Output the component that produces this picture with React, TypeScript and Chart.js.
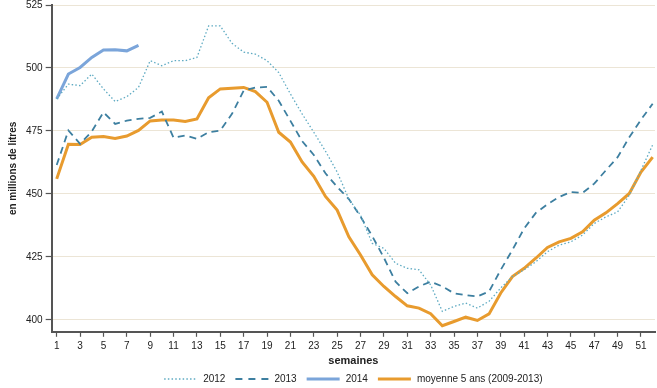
import React, { useEffect, useRef } from "react";
import { Chart, registerables } from "chart.js";

Chart.register(...registerables);

const weeks = [1,2,3,4,5,6,7,8,9,10,11,12,13,14,15,16,17,18,19,20,21,22,23,24,25,26,27,28,29,30,31,32,33,34,35,36,37,38,39,40,41,42,43,44,45,46,47,48,49,50,51,52];
const xTickWeeks = [1,3,5,7,9,11,13,15,17,19,21,23,25,27,29,31,33,35,37,39,41,43,45,47,49,51];
const yTickValues = [400, 425, 450, 475, 500, 525];

const serie2012 = [487.7, 493.6, 493, 497.6, 491.7, 486.7, 488.6, 492.3, 502.9, 500.9, 502.9, 502.9, 504.2, 516.7, 516.7, 509.8, 506.3, 505.5, 502.9, 498.2, 489.7, 481.8, 474.5, 467, 458.7, 448, 441.6, 430.4, 428.4, 422.5, 420.5, 419.9, 413.9, 403.4, 405.4, 406.7, 404.7, 407.4, 412.7, 417.2, 419.9, 423.1, 427.1, 429.7, 431, 433.7, 438.3, 440.9, 442.9, 449.5, 459.4, 469.5];
const serie2013 = [461.5, 475.2, 469.9, 474.8, 482.4, 477.8, 479.1, 479.8, 480.2, 482.7, 472.3, 473.2, 471.9, 474.5, 475.2, 481.8, 491, 492.2, 492.5, 487, 479, 471, 465.5, 458.2, 452.8, 448, 441, 433.3, 424.7, 415.2, 410.6, 413.3, 415.2, 413.3, 410.6, 409.8, 409.3, 411.3, 419.9, 427.8, 436.3, 442.5, 445.9, 448.8, 450.8, 450.4, 454.1, 459.4, 464.6, 472.5, 479.5, 485.8];
const serie2014 = [487.7, 497.6, 500.2, 504.2, 507.1, 507.2, 506.8, 509];
const moyenne = [456, 469.7, 469.6, 472.5, 472.8, 472, 473, 475.2, 479, 479.4, 479.4, 478.8, 479.8, 488.2, 491.7, 492, 492.3, 490.6, 486.4, 474.5, 470.6, 462.7, 457, 449, 443.6, 433, 425.8, 417.9, 413.3, 409.3, 405.6, 404.7, 402.5, 397.7, 399.4, 401.1, 399.8, 402.4, 410.7, 417.2, 420.5, 424.5, 428.8, 431, 432.4, 435, 439.6, 442.5, 446.2, 450.2, 458.7, 464.6];

const toPoints = (vals: number[]) => vals.map((v, i) => ({ x: weeks[i], y: v }));

const FONT = "'Liberation Sans', Arial, sans-serif";

const bottomLegend = {
  id: "bottomLegend",
  afterDraw(chart: any) {
    const ctx = chart.ctx as CanvasRenderingContext2D;
    const sample = 33;
    const gapText = 6;
    const gapItem = 10;
    ctx.save();
    ctx.font = `10px ${FONT}`;
    const items = chart.data.datasets.map((ds: any) => ({ ds, w: ctx.measureText(ds.label).width }));
    const total = items.reduce((s: number, it: any) => s + sample + gapText + it.w, 0) + gapItem * (items.length - 1);
    const area = chart.chartArea;
    let x = (area.left + area.right) / 2 - total / 2;
    const y = 379;
    for (const it of items) {
      ctx.beginPath();
      ctx.setLineDash(it.ds.legendDash || []);
      ctx.lineWidth = it.ds.borderWidth;
      ctx.strokeStyle = it.ds.borderColor;
      ctx.moveTo(x, y);
      ctx.lineTo(x + sample, y);
      ctx.stroke();
      ctx.setLineDash([]);
      x += sample + gapText;
      ctx.fillStyle = "#222";
      ctx.textBaseline = "middle";
      ctx.textAlign = "left";
      ctx.fillText(it.ds.label, x, y + 0.5);
      x += it.w + gapItem;
    }
    ctx.restore();
  },
};

export default function App() {
  const ref = useRef<HTMLCanvasElement | null>(null);
  useEffect(() => {
    if (!ref.current) return;
    const chart = new Chart(ref.current, {
      type: "line",
      data: {
        datasets: [
          { label: "2012", data: toPoints(serie2012), borderColor: "#5eaac2", borderWidth: 1.3, borderDash: [1.5, 2.2], legendDash: [1.5, 2.2], pointRadius: 0, tension: 0, fill: false },
          { label: "2013", data: toPoints(serie2013), borderColor: "#3d7fa0", borderWidth: 1.8, borderDash: [7, 5], legendDash: [7, 6], pointRadius: 0, tension: 0, fill: false },
          { label: "2014", data: toPoints(serie2014), borderColor: "#7ba5da", borderWidth: 3, pointRadius: 0, tension: 0, fill: false },
          { label: "moyenne 5 ans (2009-2013)", data: toPoints(moyenne), borderColor: "#e89b2e", borderWidth: 3, pointRadius: 0, tension: 0, fill: false },
        ],
      },
      options: {
        animation: false,
        responsive: false,
        maintainAspectRatio: false,
        layout: { padding: { left: 7, right: 2, top: 2, bottom: 0 } },
        plugins: {
          tooltip: { enabled: false },
          legend: { display: false },
        },
        scales: {
          x: {
            type: "linear",
            min: 0.57,
            max: 52.2,
            afterBuildTicks: (axis: any) => { axis.ticks = xTickWeeks.map((v) => ({ value: v })); },
            grid: { display: true, drawOnChartArea: false, drawTicks: true, tickLength: 5, tickColor: "#555", tickWidth: 1.2 },
            border: { display: true, color: "#555", width: 2 },
            ticks: { color: "#222", font: { family: FONT, size: 10 }, padding: 3, maxRotation: 0, autoSkip: false },
            title: { display: true, text: "semaines", color: "#222", font: { family: FONT, size: 11, weight: "bold" }, padding: { top: 0, bottom: 20 } },
          },
          y: {
            type: "linear",
            min: 395.3,
            max: 525,
            afterBuildTicks: (axis: any) => { axis.ticks = yTickValues.map((v) => ({ value: v })); },
            grid: { color: "#ece5d6", lineWidth: 1, drawTicks: true, tickLength: 6, tickColor: "#555", tickWidth: 1.2 },
            border: { display: true, color: "#555", width: 2 },
            ticks: { color: "#222", font: { family: FONT, size: 10, lineHeight: 0.4 }, padding: 3 },
            title: { display: true, text: "en millions de litres", color: "#222", font: { family: FONT, size: 10, weight: "bold" }, padding: { top: 0, bottom: 4 } },
          },
        },
      },
      plugins: [bottomLegend],
    } as any);
    return () => chart.destroy();
  }, []);
  return (
    <div style={{ position: "absolute", left: 0, top: 0, width: 657, height: 388, background: "#fff" }}>
      <canvas ref={ref} width={657} height={388} style={{ display: "block", width: 657, height: 388 }} />
    </div>
  );
}
